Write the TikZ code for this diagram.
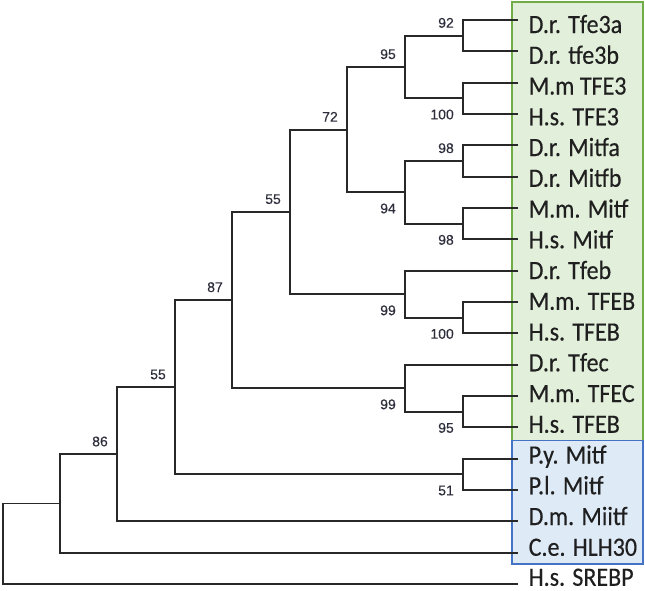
\documentclass[tikz,border=0pt]{standalone}
\usepackage{fontspec}
\setmainfont{Carlito}
\newfontfamily\leaffont[FakeBold=0.4]{Carlito}
\newfontfamily\numfont[FakeBold=0.3]{Liberation Sans}
\definecolor{linegray}{RGB}{40,40,40}
\definecolor{numgray}{RGB}{45,45,60}
\definecolor{gfill}{RGB}{226,239,218}
\definecolor{gline}{RGB}{112,173,71}
\definecolor{bfill}{RGB}{222,234,246}
\definecolor{bline}{RGB}{68,114,196}
\newcommand{\lf}[1]{\scalebox{1}[1.1]{#1}}
\begin{document}
\begin{tikzpicture}[x=1pt,y=-1pt,
  branch/.style={draw=linegray, line width=1.8pt},
  leaf/.style={anchor=west, inner xsep=10.5pt, inner ysep=0pt, text height=#1, text depth=0pt, font=\leaffont\fontsize{24}{24}\selectfont, text=black!88},
  bsup/.style={anchor=east, inner sep=0pt, text height=10pt, text depth=0pt, font=\numfont\fontsize{14}{14}\selectfont, text=numgray},
  greenbox/.style={fill=gfill, draw=gline, line width=1.6pt},
  bluebox/.style={fill=bfill, draw=bline, line width=1.6pt}]
\useasboundingbox (0,0) rectangle (645,590);
% boxes
\draw[greenbox] (512,2) rectangle (643,440.5);
\draw[bluebox] (512,440.5) rectangle (643,564);
% leaves
\node[leaf=26pt]    (l0)  at (518,20)     {\lf{D.r. Tfe3a}};
\node[leaf=24.83pt] (l1)  at (518,51.33)  {\lf{D.r. tfe3b}};
\node[leaf=23.67pt] (l2)  at (518,82.67)  {\lf{M.m TFE3}};
\node[leaf=22.5pt]  (l3)  at (518,114)    {\lf{H.s. TFE3}};
\node[leaf=21.33pt] (l4)  at (518,145.33) {\lf{D.r. Mitfa}};
\node[leaf=20.17pt] (l5)  at (518,176.67) {\lf{D.r. Mitfb}};
\node[leaf=19pt]    (l6)  at (518,208)    {\lf{M.m. Mitf}};
\node[leaf=17.83pt] (l7)  at (518,239.33) {\lf{H.s. Mitf}};
\node[leaf=16.67pt] (l8)  at (518,270.67) {\lf{D.r. Tfeb}};
\node[leaf=15.5pt]  (l9)  at (518,302)    {\lf{M.m. TFEB}};
\node[leaf=14.33pt] (l10) at (518,333.33) {\lf{H.s. TFEB}};
\node[leaf=13.17pt] (l11) at (518,364.67) {\lf{D.r. Tfec}};
\node[leaf=12pt]    (l12) at (518,396)    {\lf{M.m. TFEC}};
\node[leaf=10.83pt] (l13) at (518,427.33) {\lf{H.s. TFEB}};
\node[leaf=9.67pt]  (l14) at (518,458.67) {\lf{P.y. Mitf}};
\node[leaf=8.5pt]   (l15) at (518,490)    {\lf{P.l. Mitf}};
\node[leaf=7.33pt]  (l16) at (518,521.33) {\lf{D.m. Miitf}};
\node[leaf=6.17pt]  (l17) at (518,552.67) {\lf{C.e. HLH30}};
\node[leaf=3.5pt]   (l18) at (518,584)    {\lf{H.s. SREBP}};
% internal nodes
\coordinate (nTfe3)  at (463,35.67);
\coordinate (nTFE3)  at (463,98.33);
\coordinate (nG)     at (405,67);
\coordinate (nMitfa) at (463,161);
\coordinate (nMitf)  at (463,223.67);
\coordinate (nH)     at (405,192.33);
\coordinate (nF)     at (347,129.67);
\coordinate (nTFEB)  at (463,317.67);
\coordinate (nTfeb)  at (405,294.17);
\coordinate (nE)     at (290,211.92);
\coordinate (nTFEC)  at (463,411.67);
\coordinate (nTfec)  at (405,388.17);
\coordinate (nD)     at (232,300.04);
\coordinate (nP)     at (463,474.33);
\coordinate (nC)     at (175,387.19);
\coordinate (nB)     at (117,454.26);
\coordinate (nA)     at (60,503.46);
\coordinate (nR)     at (3,543.7);
% branches
\draw[branch] (l0.west) -| (nTfe3) |- (l1.west);
\draw[branch] (l2.west) -| (nTFE3) |- (l3.west);
\draw[branch] (nTfe3) -| (nG) |- (nTFE3);
\draw[branch] (l4.west) -| (nMitfa) |- (l5.west);
\draw[branch] (l6.west) -| (nMitf) |- (l7.west);
\draw[branch] (nMitfa) -| (nH) |- (nMitf);
\draw[branch] (nG) -| (nF) |- (nH);
\draw[branch] (l9.west) -| (nTFEB) |- (l10.west);
\draw[branch] (l8.west) -| (nTfeb) |- (nTFEB);
\draw[branch] (nF) -| (nE) |- (nTfeb);
\draw[branch] (l12.west) -| (nTFEC) |- (l13.west);
\draw[branch] (l11.west) -| (nTfec) |- (nTFEC);
\draw[branch] (nE) -| (nD) |- (nTfec);
\draw[branch] (l14.west) -| (nP) |- (l15.west);
\draw[branch] (nD) -| (nC) |- (nP);
\draw[branch] (nC) -| (nB) |- (l16.west);
\draw[branch] (nB) -| (nA) |- (l17.west);
\draw[branch] (nA) -| (nR) |- (l18.west);
% support values
\node[bsup] (s1)  at (454,22.7)  {92};
\node[bsup] (s2)  at (454,114.3) {100};
\node[bsup] (s3)  at (396,54)    {95};
\node[bsup] (s4)  at (454,148)   {98};
\node[bsup] (s5)  at (454,239.7) {98};
\node[bsup] (s6)  at (396,208.3) {94};
\node[bsup] (s7)  at (338,116.7) {72};
\node[bsup] (s8)  at (454,333.7) {100};
\node[bsup] (s9)  at (396,310.2) {99};
\node[bsup] (s10) at (281,198.9) {55};
\node[bsup] (s11) at (454,427.7) {95};
\node[bsup] (s12) at (396,404.2) {99};
\node[bsup] (s13) at (223,287)   {87};
\node[bsup] (s14) at (454,490.3) {51};
\node[bsup] (s15) at (166,374.2) {55};
\node[bsup] (s16) at (108,441.3) {86};
\end{tikzpicture}
\end{document}
